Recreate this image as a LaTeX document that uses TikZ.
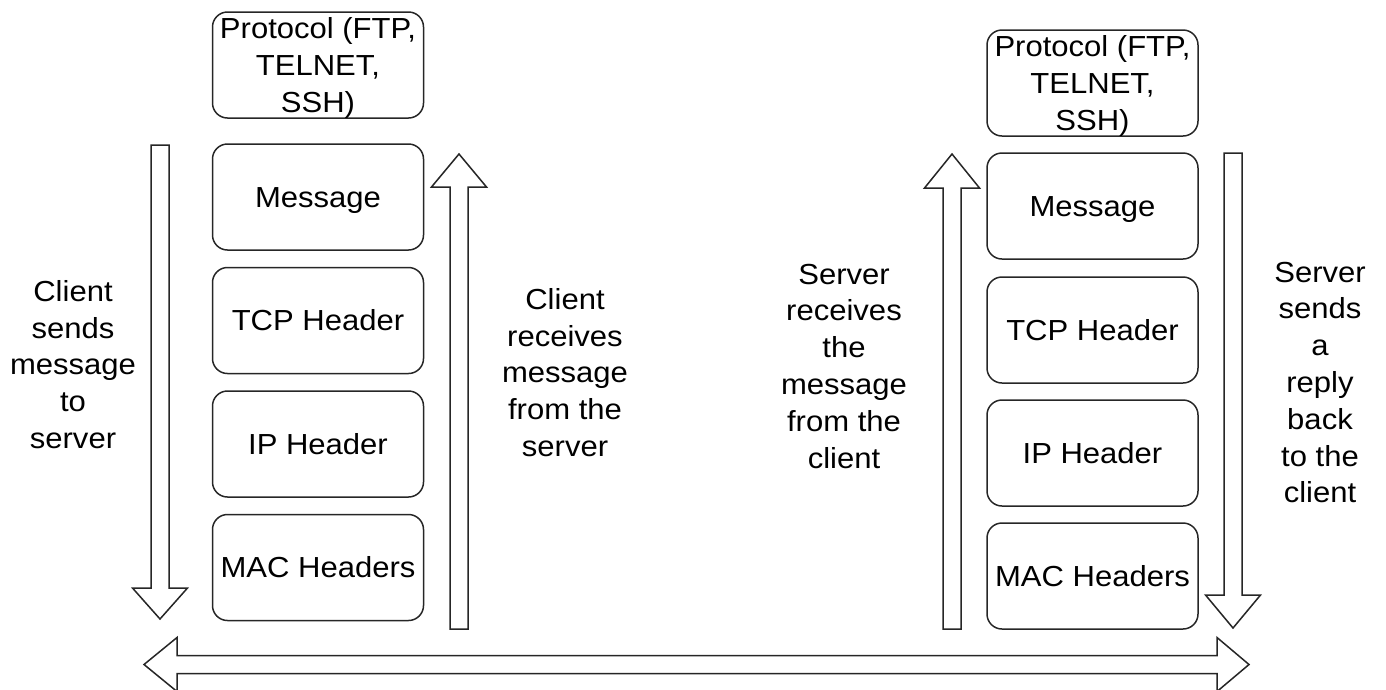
\documentclass[tikz,border=0pt]{standalone}
\usepackage{fontspec}
\setmainfont{Liberation Sans}[FakeStretch=1.07]
\newcommand{\vblockarrow}[4]{% x, tail y, head base y, tip y
  \draw[blockarrow] ({#1-9},#2) -- ({#1-9},#3) -- ({#1-27.5},#3) -- (#1,#4)
    -- ({#1+27.5},#3) -- ({#1+9},#3) -- ({#1+9},#2) -- cycle;}
\begin{document}
\begin{tikzpicture}[x=1pt,y=-1pt,
  txt/.style={font=\fontsize{29}{36.8}\selectfont, text=black},
  layerbox/.style={draw=black!85, line width=1.5pt, rounded corners=15pt,
    minimum width=211pt, minimum height=106pt, inner sep=0pt, txt,
    text height=20.8pt, text depth=0pt},
  protobox/.style={layerbox, text height={}, text depth={}, align=center},
  lbl/.style={txt, align=center, inner sep=0pt},
  blockarrow/.style={draw=black!85, line width=1.5pt, fill=white, line join=miter}]
\useasboundingbox (0,0) rectangle (1386,689);

% bottom double arrow
\draw[blockarrow] (144,664.5) -- (177,637.5) -- (177,655.5) -- (1217,655.5)
  -- (1217,637.5) -- (1249,664.5) -- (1217,691.5) -- (1217,673.5)
  -- (177,673.5) -- (177,691.5) -- cycle;

% client stack
\node[protobox] (cproto) at (318,65) {Protocol (FTP,\\TELNET,\\SSH\smash{)}};
\node[layerbox] (cmsg) at (318,197) {Message};
\node[layerbox] (ctcp) at (318,320.5) {TCP Header};
\node[layerbox] (cip)  at (318,444) {IP Header};
\node[layerbox] (cmac) at (318,567.5) {MAC Headers};

% server stack
\node[protobox] (sproto) at (1092.5,83) {Protocol (FTP,\\TELNET,\\SSH\smash{)}};
\node[layerbox] (smsg) at (1092.5,206) {Message};
\node[layerbox] (stcp) at (1092.5,330) {TCP Header};
\node[layerbox] (sip)  at (1092.5,453) {IP Header};
\node[layerbox] (smac) at (1092.5,576) {MAC Headers};

% vertical block arrows
\vblockarrow{160}{145}{588}{619}
\vblockarrow{459}{629}{187}{154}
\vblockarrow{952}{629}{188}{154}
\vblockarrow{1233}{153}{595}{628}

% labels
\node[lbl] (l1) at (73,364.6) {Client\\sends\\message\\to\\server};
\node[lbl] (l2) at (565,372.6) {Client\\receives\\message\\from the\\server};
\node[lbl] (l3) at (844,366.1) {Server\\receives\\the\\message\\from the\\client};
\node[lbl] (l4) at (1320,382.5) {Server\\sends\\a\\reply\\back\\to the\\client};
\end{tikzpicture}
\end{document}
